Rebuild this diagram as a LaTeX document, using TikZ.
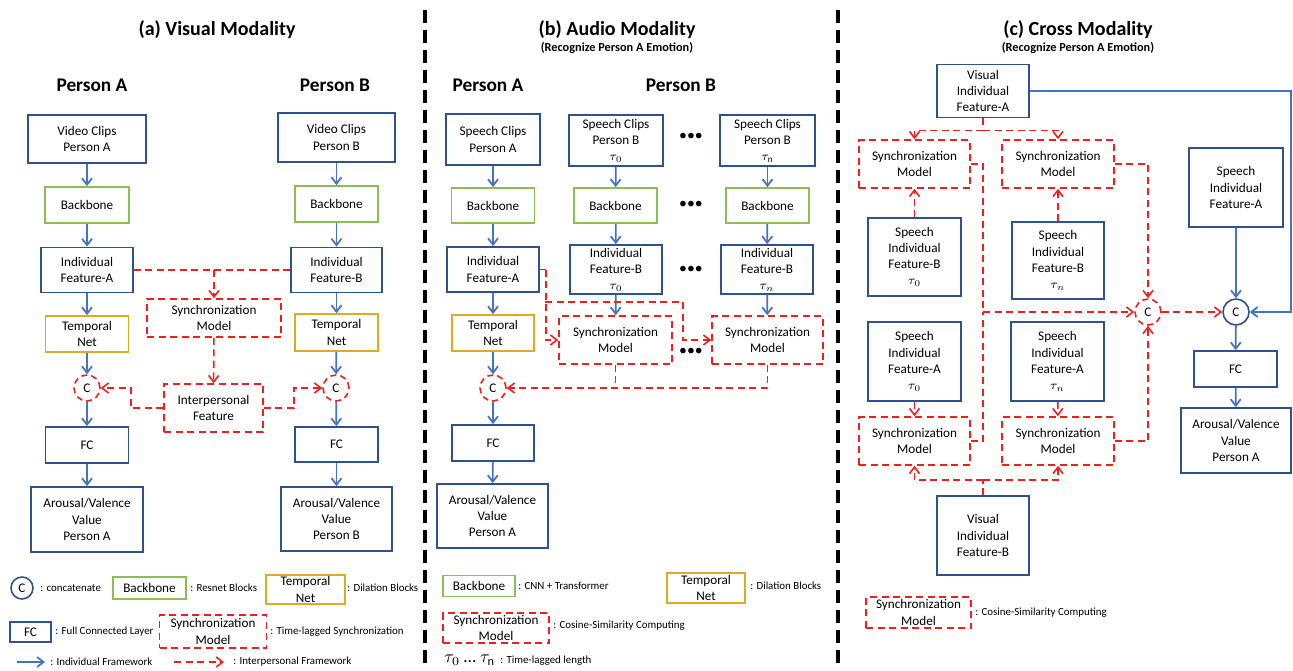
\documentclass[tikz,border=0pt]{standalone}
\usepackage{fontspec}
\setmainfont{Carlito}
\usepackage{tikz}
\usetikzlibrary{arrows.meta,positioning,calc}
\definecolor{boxblue}{RGB}{47,82,143}
\definecolor{arrblue}{RGB}{68,114,196}
\definecolor{bbgreen}{RGB}{140,190,85}
\definecolor{tngold}{RGB}{222,170,40}
\definecolor{syncred}{RGB}{240,30,30}

\begin{document}
\begin{tikzpicture}[
  x=0.2mm, y=-0.2mm, >={Straight Barb[length=1.3mm,width=2mm]},
  box/.style={draw=boxblue, line width=1pt, fill=white, align=center,
              inner sep=0pt, font=\fontsize{7.5}{9.2}\selectfont},
  sz/.style 2 args={minimum width=#1*0.2mm, minimum height=#2*0.2mm},
  bb/.style={box, draw=bbgreen},
  tn/.style={box, draw=tngold},
  sync/.style={box, draw=syncred, line width=0.9pt, dash pattern=on 1.4mm off 0.9mm},
  cat/.style={circle, draw=syncred, line width=0.9pt, dash pattern=on 1.2mm off 0.8mm,
              minimum size=5.2mm, inner sep=0pt, fill=white, font=\fontsize{7.5}{9}\selectfont},
  catb/.style={cat, draw=boxblue, solid},
  flow/.style={->, draw=arrblue, line width=1pt},
  link/.style={->, draw=syncred, line width=0.9pt, dash pattern=on 1.4mm off 0.9mm},
  linkn/.style={link, -},
  sep/.style={line width=2pt, dash pattern=on 2.6mm off 1.4mm},
  ttl/.style={font=\bfseries\fontsize{11.4}{13}\selectfont},
  sub/.style={font=\bfseries\fontsize{7}{8}\selectfont},
  hd/.style={font=\bfseries\fontsize{11}{13}\selectfont},
  lgd/.style={anchor=west, inner sep=0pt, font=\fontsize{6.2}{7.5}\selectfont},
  dots/.style={font=\fontsize{9}{9}\selectfont}]
\useasboundingbox (0,0) rectangle (1293,670);

% separators
\draw[sep] (425,10) -- (425,670);
\draw[sep] (838,10) -- (838,670);

% (a) visual modality
\node[ttl] (ttla) at (217,30) {(a) Visual Modality};
\node[hd] (hdaA) at (92,85) {Person A};
\node[hd] (hdaB) at (335,85) {Person B};
\node[box, sz={118}{48}] (aclipA) at (87,139) {Video Clips\\Person A};
\node[bb, sz={84}{36}] (abbA) at (87,205) {Backbone};
\node[box, sz={92}{45}] (afeatA) at (87,270) {Individual\\Feature-A};
\node[tn, sz={83}{36}] (atnA) at (87,334) {Temporal\\Net};
\node[cat] (acatA) at (87,388) {C};
\node[box, sz={83}{36}] (afcA) at (87,445) {FC};
\node[box, sz={112}{65}] (aoutA) at (87,519.5) {Arousal/Valence\\Value\\Person A};
\node[box, sz={117}{49}] (aclipB) at (336.5,137.5) {Video Clips\\Person B};
\node[bb, sz={83}{36}] (abbB) at (336.5,204) {Backbone};
\node[box, sz={91}{45}] (afeatB) at (336.5,270) {Individual\\Feature-B};
\node[tn, sz={83}{37}] (atnB) at (336.5,332.5) {Temporal\\Net};
\node[cat] (acatB) at (336,388) {C};
\node[box, sz={83}{35}] (afcB) at (336.5,444.5) {FC};
\node[box, sz={111}{64}] (aoutB) at (336.5,519) {Arousal/Valence\\Value\\Person B};
\node[sync, sz={134}{38}] (async) at (214,318) {Synchronization\\Model};
\node[sync, sz={99}{48}] (ainter) at (213.5,408) {Interpersonal\\Feature};
\draw[flow] (aclipA) -- (abbA);
\draw[flow] (abbA) -- (afeatA);
\draw[flow] (afeatA) -- (atnA);
\draw[flow] (atnA) -- (acatA);
\draw[flow] (acatA) -- (afcA);
\draw[flow] (afcA) -- (aoutA);
\draw[flow] (aclipB) -- (abbB);
\draw[flow] (abbB) -- (afeatB);
\draw[flow] (afeatB) -- (atnB);
\draw[flow] (atnB) -- (acatB);
\draw[flow] (acatB) -- (afcB);
\draw[flow] (afcB) -- (aoutB);
\draw[linkn] (afeatA) -- (afeatB);
\draw[link] (async |- afeatA) -- (async);
\draw[link] (async) -- (ainter);
\draw[link] (ainter.west) -- ++(-32,0) |- (acatA);
\draw[link] (ainter.east) -- ++(30,0) |- (acatB);

% (b) audio modality
\node[ttl] (ttlb) at (617,30) {(b) Audio Modality};
\node[sub] (subb) at (617,48) {(Recognize Person A Emotion)};
\node[hd] (hdbA) at (488,85) {Person A};
\node[hd] (hdbB) at (681,85) {Person B};
\node[box, sz={94}{51}] (bclipA) at (493,139.5) {Speech Clips\\Person A};
\node[bb, sz={83}{35}] (bbbA) at (493,205.5) {Backbone};
\node[box, sz={92}{45}] (bfeatA) at (493,269.5) {Individual\\Feature-A};
\node[tn, sz={82}{36}] (btnA) at (493,333) {Temporal\\Net};
\node[cat] (bcatA) at (493,388) {C};
\node[box, sz={82}{36}] (bfcA) at (493,443) {FC};
\node[box, sz={111}{64}] (boutA) at (492.5,516) {Arousal/Valence\\Value\\Person A};
\node[box, sz={94}{51}] (bclip0) at (616,140.5) {Speech Clips\\Person B\\$\tau_0$};
\node[bb, sz={83}{35}] (bbb0) at (615.5,205.5) {Backbone};
\node[box, sz={92}{49}] (bfeat0) at (616,269.5) {Individual\\Feature-B\\$\tau_0$};
\node[sync, sz={113}{48}] (bsync0) at (615.5,340) {Synchronization\\Model};
\node[box, sz={95}{51}] (bclipn) at (767.5,140.5) {Speech Clips\\Person B\\$\tau_{\mathrm{n}}$};
\node[bb, sz={83}{35}] (bbbn) at (767.5,205.5) {Backbone};
\node[box, sz={92}{49}] (bfeatn) at (767,269.5) {Individual\\Feature-B\\$\tau_n$};
\node[sync, sz={111}{48}] (bsyncn) at (767.5,340) {Synchronization\\Model};
\node[dots] (bdot1) at (691,137) {\textbullet\textbullet\textbullet};
\node[dots] (bdot2) at (691,205) {\textbullet\textbullet\textbullet};
\node[dots] (bdot3) at (691,270) {\textbullet\textbullet\textbullet};
\node[dots] (bdot4) at (691,352) {\textbullet\textbullet\textbullet};
\draw[flow] (bclipA) -- (bbbA);
\draw[flow] (bbbA) -- (bfeatA);
\draw[flow] (bfeatA) -- (btnA);
\draw[flow] (btnA) -- (bcatA);
\draw[flow] (bcatA) -- (bfcA);
\draw[flow] (bfcA) -- (boutA);
\draw[flow] (bclip0) -- (bbb0);
\draw[flow] (bbb0) -- (bfeat0);
\draw[flow] (bfeat0) -- (bsync0);
\draw[flow] (bclipn) -- (bbbn);
\draw[flow] (bbbn) -- (bfeatn);
\draw[flow] (bfeatn) -- (bsyncn);
\coordinate (bfork) at (545,302);
\coordinate (bbend) at (683,302);
\draw[linkn] (bfeatA.east) -- ++(6,0) coordinate (bturn);
\draw[link] (bturn) |- (bsync0);
\draw[link] (bfork) -- (bbend) |- (bsyncn);
\draw[link] (bsyncn.south) |- (bcatA);
\draw[linkn] (bsync0.south) -- (bsync0 |- bcatA);

% (c) cross modality
\node[ttl] (ttlc) at (1078,30) {(c) Cross Modality};
\node[sub] (subc) at (1078,48) {(Recognize Person A Emotion)};
\node[box, sz={92}{53}] (cvisA) at (983,91) {Visual\\Individual\\Feature-A};
\node[sync, sz={111}{48}] (csync1) at (914.5,164) {Synchronization\\Model};
\node[sync, sz={112}{48}] (csync2) at (1058,164) {Synchronization\\Model};
\node[box, sz={93}{78}] (cspB0) at (914.5,257) {Speech\\Individual\\Feature-B\\$\tau_0$};
\node[box, sz={92}{77}] (cspBn) at (1058,260.5) {Speech\\Individual\\Feature-B\\$\tau_n$};
\node[box, sz={94}{79}] (cspA) at (1236,187.5) {Speech\\Individual\\Feature-A};
\node[cat] (ccatr) at (1148,312) {C};
\node[catb] (ccatb) at (1236,312) {C};
\node[box, sz={83}{36}] (cfc) at (1235.5,369) {FC};
\node[box, sz={110}{65}] (cout) at (1236,440.5) {Arousal/Valence\\Value\\Person A};
\node[box, sz={93}{79}] (cspA0) at (914.5,361.5) {Speech\\Individual\\Feature-A\\$\tau_0$};
\node[box, sz={93}{79}] (cspAn) at (1057.5,361.5) {Speech\\Individual\\Feature-A\\$\tau_n$};
\node[sync, sz={111}{48}] (csync3) at (914.5,441) {Synchronization\\Model};
\node[sync, sz={112}{48}] (csync4) at (1058,441) {Synchronization\\Model};
\node[box, sz={92}{79}] (cvisB) at (983,535.5) {Visual\\Individual\\Feature-B};
\draw[linkn] (cvisA.south) -- ++(0,12) coordinate (ctop);
\draw[link] (ctop) -| (csync1);
\draw[link] (ctop) -| (csync2);
\draw[link] (cspB0) -- (csync1);
\draw[link] (cspBn) -- (csync2);
\draw[link] (cspA0) -- (csync3);
\draw[link] (cspAn) -- (csync4);
\draw[linkn] (cvisB.north) -- ++(0,-15) coordinate (cbot);
\draw[link] (cbot) -| (csync3);
\draw[link] (cbot) -| (csync4);
\coordinate (cbus) at (983,312);
\draw[linkn] (csync1.east) -| (cbus);
\draw[linkn] (csync3.east) -| (cbus);
\draw[link] (cbus) -- (ccatr);
\draw[link] (csync2.east) -| (ccatr);
\draw[link] (csync4.east) -| (ccatr);
\draw[link] (ccatr) -- (ccatb);
\coordinate (cedge) at (1291,91);
\draw[flow] (cvisA.east) -- (cedge) |- (ccatb);
\draw[flow] (cspA) -- (ccatb);
\draw[flow] (ccatb) -- (cfc);
\draw[flow] (cfc) -- (cout);

% legends
\node[catb, minimum size=4.4mm] (lcat) at (22,588) {C};
\node[lgd] (lcatt) at (40,588) {: concatenate};
\node[bb, sz={73}{22}] (lbb) at (149.5,588) {Backbone};
\node[lgd] (lbbt) at (190,588) {: Resnet Blocks};
\node[tn, sz={79}{29}] (ltn) at (305.5,589.5) {Temporal\\Net};
\node[lgd] (ltnt) at (347,588) {: Dilation Blocks};
\node[box, sz={41}{20}] (lfc) at (30.5,632) {FC};
\node[lgd] (lfct) at (55,632) {: Full Connected Layer};
\node[sync, sz={107}{33}] (lsync) at (213,631.5) {Synchronization\\Model};
\node[lgd] (lsynct) at (270,632) {: Time-lagged Synchronization};
\coordinate (lfa) at (17,662);
\coordinate (lfb) at (45,662);
\draw[flow] (lfa) -- (lfb);
\node[lgd] (lflowt) at (50,662) {: Individual Framework};
\coordinate (lla) at (174,662);
\coordinate (llb) at (224,662);
\draw[link] (lla) -- (llb);
\node[lgd] (llinkt) at (233,662) {: Interpersonal Framework};

\node[bb, sz={72}{21}] (lbbb) at (479,586) {Backbone};
\node[lgd] (lbbbt) at (518,586) {: CNN + Transformer};
\node[tn, sz={78}{30}] (ltnb) at (706,588) {Temporal\\Net};
\node[lgd] (ltnbt) at (750,586) {: Dilation Blocks};
\node[sync, sz={106}{30}] (lsyncb) at (496,628) {Synchronization\\Model};
\node[lgd] (lsyncbt) at (553,626) {: Cosine-Similarity Computing};
\node[anchor=west, inner sep=0pt, font=\fontsize{10}{12}\selectfont] (ltau) at (444,660) {$\tau_0$ … $\tau_{\mathrm{n}}$};
\node[lgd] (ltaut) at (500,661) {: Time-lagged length};

\node[sync, sz={105}{31}] (lsyncc) at (918.5,612.5) {Synchronization\\Model};
\node[lgd] (lsyncct) at (975,613) {: Cosine-Similarity Computing};
\end{tikzpicture}
\end{document}
